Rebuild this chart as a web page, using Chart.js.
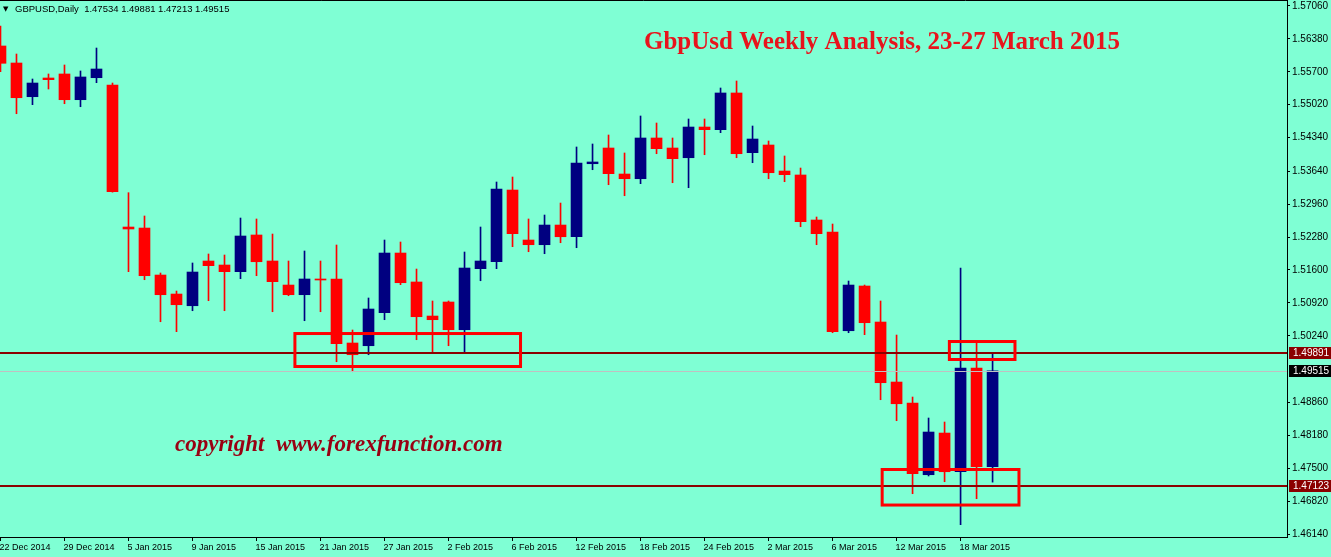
<!DOCTYPE html>
<html>
<head>
<meta charset="utf-8">
<script src="https://cdn.jsdelivr.net/npm/chart.js@4/dist/chart.umd.min.js"></script>
<style>
html, body { margin: 0; padding: 0; background: #7fffd4; }
#wrap { width: 1331px; height: 557px; }
</style>
</head>
<body>
<div id="wrap"><canvas id="chart" width="1331" height="557"></canvas></div>
<script>
// GBPUSD daily, 22 Dec 2014 - 20 Mar 2015
const opens = [
  1.56233, 1.55881, 1.55184, 1.55571, 1.55654, 1.55122, 1.55577, 1.55426, 1.52489, 1.52468,
  1.51496, 1.51103, 1.50861, 1.51786, 1.51703, 1.51565, 1.52324, 1.51786, 1.51289, 1.51089,
  1.51414, 1.51414, 1.50090, 1.50034, 1.50717, 1.51951, 1.51352, 1.50648, 1.50938, 1.50365,
  1.51627, 1.51771, 1.53254, 1.52220, 1.52123, 1.52530, 1.52288, 1.53798, 1.54123, 1.53585,
  1.53488, 1.54330, 1.54123, 1.53922, 1.54557, 1.54502, 1.55261, 1.54026, 1.54185, 1.53647,
  1.53565, 1.52634, 1.52386, 1.50344, 1.51269, 1.50524, 1.49283, 1.48849, 1.47366, 1.48228,
  1.47428, 1.49573, 1.47534
];
const highs = [
  1.56646, 1.56067, 1.55550, 1.55654, 1.55840, 1.55716, 1.56191, 1.55467, 1.53199, 1.52717,
  1.51538, 1.51165, 1.51745, 1.51931, 1.51910, 1.52675, 1.52655, 1.52344, 1.51786, 1.51993,
  1.51786, 1.52117, 1.50359, 1.51021, 1.52220, 1.52179, 1.51620, 1.50959, 1.50959, 1.51972,
  1.52489, 1.53420, 1.53523, 1.52655, 1.52737, 1.52985, 1.54144, 1.54206, 1.54392, 1.54020,
  1.54785, 1.54640, 1.54330, 1.54723, 1.54723, 1.55364, 1.55509, 1.54578, 1.54268, 1.53958,
  1.53709, 1.52696, 1.52551, 1.51372, 1.51289, 1.50959, 1.50255, 1.48973, 1.48539, 1.48456,
  1.51641, 1.50090, 1.49881
];
const lows = [
  1.55701, 1.54832, 1.55019, 1.55343, 1.55039, 1.54977, 1.55474, 1.53210, 1.51565, 1.51399,
  1.50530, 1.50324, 1.50758, 1.50965, 1.50758, 1.51420, 1.51482, 1.50737, 1.51068, 1.50551,
  1.50737, 1.49703, 1.49496, 1.49848, 1.50572, 1.51296, 1.50158, 1.49869, 1.50034, 1.49869,
  1.51378, 1.51627, 1.52082, 1.51978, 1.51937, 1.52164, 1.52061, 1.53674, 1.53364, 1.53136,
  1.53385, 1.54005, 1.53405, 1.53302, 1.53984, 1.54440, 1.53922, 1.53819, 1.53488, 1.53426,
  1.52495, 1.52123, 1.50303, 1.50303, 1.50262, 1.48917, 1.48483, 1.46973, 1.47340, 1.47221,
  1.46332, 1.46870, 1.47213
];
const closes = [
  1.55875, 1.55163, 1.55467, 1.55536, 1.55122, 1.55592, 1.55757, 1.53219, 1.52448, 1.51482,
  1.51089, 1.50882, 1.51558, 1.51689, 1.51565, 1.52303, 1.51771, 1.51358, 1.51089, 1.51414,
  1.51393, 1.50075, 1.49848, 1.50793, 1.51951, 1.51337, 1.50634, 1.50572, 1.50365, 1.51641,
  1.51786, 1.53275, 1.52351, 1.52123, 1.52530, 1.52288, 1.53813, 1.53834, 1.53592, 1.53488,
  1.54330, 1.54109, 1.53902, 1.54557, 1.54502, 1.55261, 1.54005, 1.54309, 1.53612, 1.53571,
  1.52599, 1.52351, 1.50324, 1.51289, 1.50510, 1.49269, 1.48834, 1.47387, 1.48249, 1.47428,
  1.49573, 1.47531, 1.49515
];

// one date label every 4 bars
const dateLabels = [
  '22 Dec 2014', '29 Dec 2014', '5 Jan 2015', '9 Jan 2015', '15 Jan 2015', '21 Jan 2015',
  '27 Jan 2015', '2 Feb 2015', '6 Feb 2015', '12 Feb 2015', '18 Feb 2015', '24 Feb 2015',
  '2 Mar 2015', '6 Mar 2015', '12 Mar 2015', '18 Mar 2015'
];
const barsPerLabel = 4;
const priceTicks = [
  1.5706, 1.5638, 1.5570, 1.5502, 1.5434, 1.5364, 1.5296, 1.5228,
  1.5160, 1.5092, 1.5024, 1.4886, 1.4818, 1.4750, 1.4682, 1.4614
];

const levels = [1.49891, 1.47123];
const bidPrice = 1.49515;
// drawn rectangles, in bar index / price
const boxes = [
  { from: 18.4, to: 32.5, top: 1.50286, bottom: 1.49604 },
  { from: 59.3, to: 63.4, top: 1.50121, bottom: 1.49749 },
  { from: 55.1, to: 63.65, top: 1.47474, bottom: 1.46739 }
];

const title = 'GbpUsd Weekly Analysis, 23-27 March 2015';
const watermark = 'copyright  www.forexfunction.com';
const header = 'GBPUSD,Daily  1.47534 1.49881 1.47213 1.49515';

const BULL = '#000080';
const BEAR = '#ff0000';
const colors = opens.map((o, i) => closes[i] >= o ? BULL : BEAR);

const overlay = {
  id: 'overlay',
  afterDatasetsDraw(chart) {
    const { ctx, chartArea: a, scales: { x, y } } = chart;
    ctx.save();
    // bid line
    let py = Math.round(y.getPixelForValue(bidPrice)) + 0.5;
    ctx.strokeStyle = '#c0c0c0';
    ctx.lineWidth = 1;
    ctx.beginPath(); ctx.moveTo(a.left, py); ctx.lineTo(a.right, py); ctx.stroke();
    // horizontal levels
    ctx.strokeStyle = '#8b0000';
    ctx.lineWidth = 2;
    levels.forEach(v => {
      const p = Math.round(y.getPixelForValue(v));
      ctx.beginPath(); ctx.moveTo(a.left, p); ctx.lineTo(a.right, p); ctx.stroke();
    });
    // rectangles
    ctx.strokeStyle = '#ff0000';
    ctx.lineWidth = 3;
    boxes.forEach(b => {
      const x0 = x.getPixelForValue(b.from), x1 = x.getPixelForValue(b.to);
      const y0 = y.getPixelForValue(b.top), y1 = y.getPixelForValue(b.bottom);
      ctx.strokeRect(x0, y0, x1 - x0, y1 - y0);
    });
    // top frame
    ctx.strokeStyle = '#000';
    ctx.lineWidth = 1;
    ctx.beginPath(); ctx.moveTo(a.left, 0.5); ctx.lineTo(a.right + 0.5, 0.5); ctx.stroke();
    ctx.restore();
  },
  afterDraw(chart) {
    const { ctx, chartArea: a, scales: { y } } = chart;
    ctx.save();
    // price tags on the right axis
    const tag = (v, bg) => {
      const p = Math.round(y.getPixelForValue(v));
      ctx.fillStyle = bg;
      ctx.fillRect(a.right + 2, p - 6, 44, 12);
      ctx.fillStyle = '#fff';
      ctx.font = '10px "Liberation Sans"';
      ctx.textAlign = 'left';
      ctx.textBaseline = 'middle';
      ctx.fillText(v.toFixed(5), a.right + 6, p + 0.5);
    };
    levels.forEach(v => tag(v, '#8b0000'));
    tag(bidPrice, '#000');

    // symbol header
    ctx.fillStyle = '#000';
    ctx.font = '7px "DejaVu Sans"';
    ctx.textBaseline = 'alphabetic';
    ctx.fillText('\u25BC', 3, 11);
    ctx.font = '9.5px "Liberation Sans"';
    ctx.fillText(header, 15, 12);

    // title
    ctx.fillStyle = '#e8141c';
    ctx.font = 'bold 25px "Liberation Serif"';
    ctx.textAlign = 'center';
    ctx.fillText(title, 882, 49);

    // watermark
    ctx.fillStyle = '#990012';
    ctx.font = 'italic bold 23px "Liberation Serif"';
    ctx.textAlign = 'left';
    ctx.fillText(watermark, 175, 451);
    ctx.restore();
  }
};

new Chart(document.getElementById('chart'), {
  type: 'bar',
  data: {
    datasets: [
      {
        label: 'body',
        data: opens.map((o, i) => ({ x: i, y: [o, closes[i]] })),
        backgroundColor: colors,
        barThickness: 11,
        minBarLength: 1,
        borderWidth: 0,
        grouped: false,
        order: 0
      },
      {
        label: 'wick',
        data: lows.map((l, i) => ({ x: i, y: [l, highs[i]] })),
        backgroundColor: colors,
        barThickness: 1,
        borderWidth: 0,
        grouped: false,
        order: 1
      }
    ]
  },
  options: {
    responsive: false,
    animation: false,
    devicePixelRatio: 1,
    layout: { padding: 0 },
    plugins: { legend: { display: false }, tooltip: { enabled: false } },
    scales: {
      x: {
        type: 'linear',
        position: 'bottom',
        min: -0.03,
        max: 80.4,
        offset: false,
        afterBuildTicks: s => { s.ticks = dateLabels.map((_, k) => ({ value: k * barsPerLabel })); },
        afterFit: s => { s.height = 20; s.paddingLeft = 0; s.paddingRight = 0; },
        ticks: {
          autoSkip: false,
          maxRotation: 0,
          align: 'start',
          padding: 1,
          labelOffset: -1,
          color: '#000',
          font: { family: 'Liberation Sans', size: 9 },
          callback: (v, i) => dateLabels[i]
        },
        grid: { offset: false, drawOnChartArea: false, tickLength: 4, tickColor: '#000' },
        border: { color: '#000', width: 1 }
      },
      y: {
        type: 'linear',
        position: 'right',
        min: 1.46078,
        max: 1.57184,
        afterBuildTicks: s => { s.ticks = priceTicks.map(v => ({ value: v })); },
        afterFit: s => { s.width = 44; s.paddingTop = 0; s.paddingBottom = 0; },
        ticks: {
          padding: 2,
          color: '#000',
          font: { family: 'Liberation Sans', size: 10 },
          callback: v => v.toFixed(5)
        },
        grid: { drawOnChartArea: false, tickLength: 3, tickColor: '#000' },
        border: { color: '#000', width: 1 }
      }
    }
  },
  plugins: [overlay]
});
</script>
</body>
</html>
